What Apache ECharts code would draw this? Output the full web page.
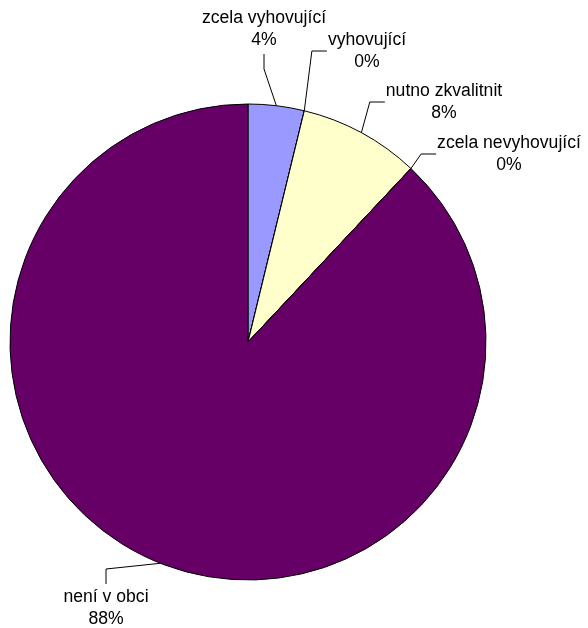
<!DOCTYPE html>
<html>
<head>
<meta charset="utf-8">
<script src="https://cdn.jsdelivr.net/npm/echarts@6/dist/echarts.min.js"></script>
<style>
html,body{margin:0;padding:0;background:#fff;}
#c{width:588px;height:628px;}
</style>
</head>
<body>
<div id="c"></div>
<script>
const categories = ['zcela vyhovující', 'vyhovující', 'nutno zkvalitnit', 'zcela nevyhovující', 'není v obci'];
const values = [3.8, 0, 8.2, 0, 88];
const colors = ['#9999FF', '#993366', '#FFFFCC', '#CCFFFF', '#660066'];

// label layout: centre of each label block and which side the leader line attaches to
const labelCenters = [[264, 29], [367, 51], [444, 102], [509, 154], [106, 608]];
const labelSides = ['bottom', 'left', 'left', 'left', 'top'];

const chart = echarts.init(document.getElementById('c'), null, {renderer: 'canvas'});
chart.setOption({
  animation: false,
  series: [{
    type: 'pie',
    center: [248, 342],
    radius: 238,
    startAngle: 90,
    clockwise: true,
    avoidLabelOverlap: false,
    percentPrecision: 0,
    data: categories.map((n, i) => ({name: n, value: values[i], itemStyle: {color: colors[i]}})),
    itemStyle: {borderColor: '#000', borderWidth: 1},
    label: {
      show: true,
      formatter: '{b}\n{d}%',
      fontFamily: 'Liberation Sans, Arial, sans-serif',
      fontSize: 17.6,
      lineHeight: 22,
      color: '#000',
      align: 'center'
    },
    labelLine: {show: true, length: 10, length2: 10, lineStyle: {color: '#000', width: 1}},
    emphasis: {disabled: true},
    labelLayout: function (p) {
      const i = p.dataIndex;
      const [cx, cy] = labelCenters[i];
      const w = p.labelRect.width, h = p.labelRect.height;
      const a = p.labelLinePoints ? p.labelLinePoints[0] : [cx, cy];
      let end, elbow;
      if (labelSides[i] === 'left') {
        end = [cx - w / 2 - 1, cy];
        elbow = [end[0] - 15, cy];
      } else if (labelSides[i] === 'bottom') {
        end = [cx, cy + h / 2 + 3];
        elbow = [cx, end[1] + 15];
      } else {
        end = [cx, cy - h / 2 - 2];
        elbow = [cx, end[1] - 15];
      }
      return {
        x: cx, y: cy, align: 'center', verticalAlign: 'middle',
        labelLinePoints: [a, elbow, end]
      };
    }
  }]
});
</script>
</body>
</html>
